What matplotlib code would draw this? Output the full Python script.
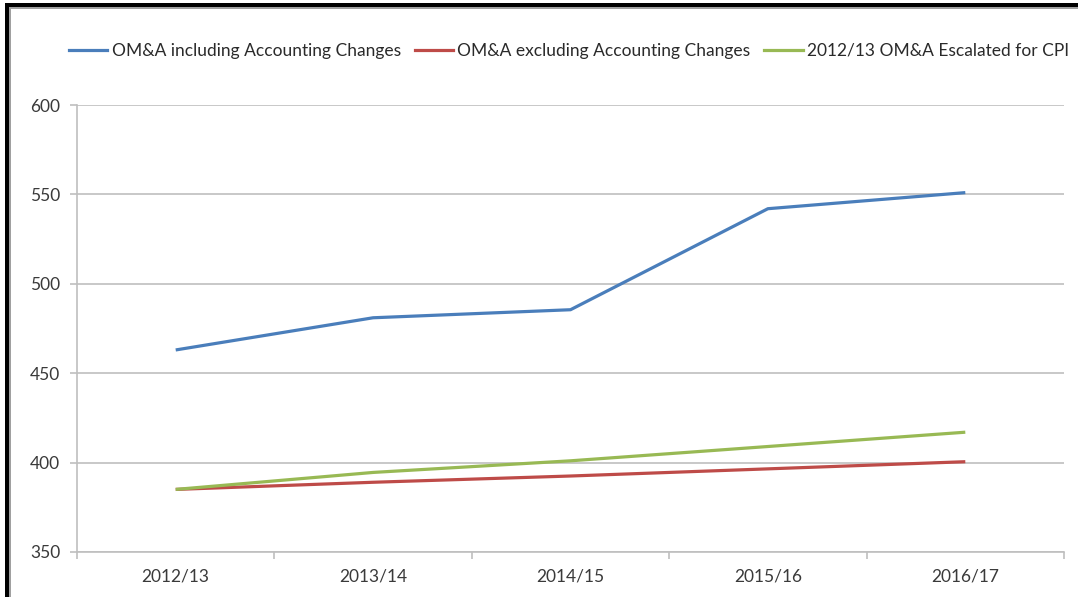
import matplotlib.pyplot as plt
from matplotlib.lines import Line2D
from matplotlib.patches import Rectangle

plt.rcParams['font.family'] = ['Lato', 'DejaVu Sans']

years = ['2012/13', '2013/14', '2014/15', '2015/16', '2016/17']
incl_changes = [463, 481, 485.5, 542, 551]
excl_changes = [385, 389, 392.5, 396.5, 400.5]
cpi_escalated = [385, 394.5, 401, 409, 417]

series = [
    ('OM&A including Accounting Changes', incl_changes, '#4a7ebb'),
    ('OM&A excluding Accounting Changes', excl_changes, '#be4b48'),
    ('2012/13 OM&A Escalated for CPI', cpi_escalated, '#98b954'),
]

W, H = 1078, 597
fig = plt.figure(figsize=(W / 100, H / 100), dpi=100)
fig.patch.set_facecolor('white')

ax = fig.add_axes([77 / W, 1 - 552 / H, (1064 - 77) / W, (552 - 105) / H])

x = list(range(len(years)))
for label, vals, color in series:
    ax.plot(x, vals, color=color, lw=2.3, label=label, solid_capstyle='butt')

ax.set_xlim(-0.5, len(years) - 0.5)
ax.set_ylim(350, 600)
ax.set_yticks([350, 400, 450, 500, 550, 600])
ax.set_xticks(x)
ax.set_xticklabels(years)
ax.set_xticks([i - 0.5 for i in range(len(years) + 1)], minor=True)

grid_c = '#bfbfbf'
ax.yaxis.grid(True, color=grid_c, lw=1.2)
ax.set_axisbelow(True)
for s in ['top', 'right']:
    ax.spines[s].set_visible(False)
ax.spines['left'].set_color(grid_c)
ax.spines['bottom'].set_color(grid_c)
ax.spines['left'].set_linewidth(1.2)
ax.spines['bottom'].set_linewidth(1.2)

ax.tick_params(axis='y', length=5, width=1.2, color=grid_c, pad=7,
               labelsize=12.5, labelcolor='#3a3a3a')
ax.tick_params(axis='x', which='major', length=0, pad=12,
               labelsize=12.5, labelcolor='#3a3a3a')
ax.tick_params(axis='x', which='minor', length=5, width=1.2, color=grid_c)

handles = [Line2D([0], [0], color=c, lw=2.3) for _, _, c in series]
labels = [l for l, _, _ in series]
fig.legend(handles, labels, loc='center', bbox_to_anchor=(0.528, 1 - 51 / H),
           ncol=3, frameon=False, fontsize=12.5, handlelength=2.2,
           handletextpad=0.25, columnspacing=0.8, labelcolor='#2a2a2a')

# frame around the chart area
fig.add_artist(Rectangle((5 / W, 0), 4 / W, 1 - 3 / H, transform=fig.transFigure,
                         color='black', lw=0))
fig.add_artist(Rectangle((5 / W, 1 - 7 / H), 1 - 5 / W, 4 / H,
                         transform=fig.transFigure, color='black', lw=0))
fig.add_artist(Rectangle((9 / W, 1 - 9 / H), 1 - 9 / W, 2 / H,
                         transform=fig.transFigure, color='#a0a0a0', lw=0))
fig.add_artist(Rectangle((9 / W, 0), 2 / W, 1 - 9 / H,
                         transform=fig.transFigure, color='#a0a0a0', lw=0))

fig.savefig('out.png', dpi=100)
